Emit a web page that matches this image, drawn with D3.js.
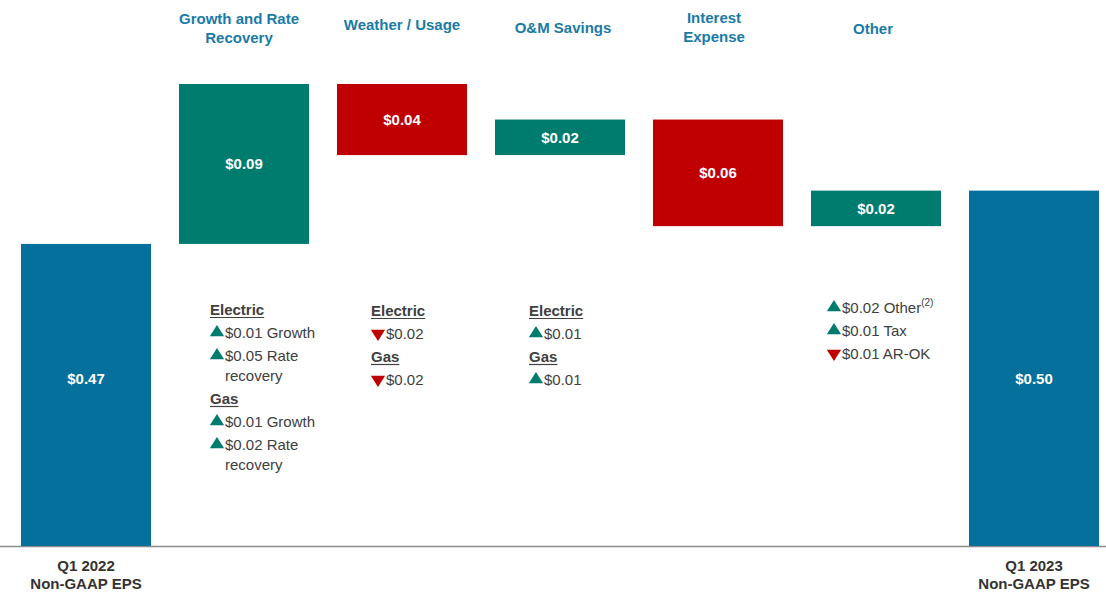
<!DOCTYPE html>
<html>
<head>
<meta charset="utf-8">
<script src="https://cdn.jsdelivr.net/npm/d3@7"></script>
<style>
  body { margin: 0; background: #fff; }
  svg { font-family: "Liberation Sans", Arial, sans-serif; }
</style>
</head>
<body>
<svg id="waterfall" width="1106" height="595"></svg>
<script>
// waterfall data
const steps = ["start", "growth", "weather", "om", "interest", "other", "end"];
const values = [0.47, 0.09, -0.04, 0.02, -0.06, 0.02, 0.50];
const isTotal = [true, false, false, false, false, false, true];
const valueLabels = ["$0.47", "$0.09", "$0.04", "$0.02", "$0.06", "$0.02", "$0.50"];
const headerLines = [
  [],
  ["Growth and Rate", "Recovery"],
  ["Weather / Usage"],
  ["O&M Savings"],
  ["Interest", "Expense"],
  ["Other"],
  []
];
const footerLines = [
  ["Q1 2022", "Non-GAAP EPS"],
  [], [], [], [], [],
  ["Q1 2023", "Non-GAAP EPS"]
];
// driver notes: kind = head | up | down | cont
const notes = {
  growth: [
    ["head", "Electric"], ["up", "$0.01 Growth"], ["up", "$0.05 Rate"], ["cont", "recovery"],
    ["head", "Gas"], ["up", "$0.01 Growth"], ["up", "$0.02 Rate"], ["cont", "recovery"]
  ],
  weather: [["head", "Electric"], ["down", "$0.02"], ["head", "Gas"], ["down", "$0.02"]],
  om: [["head", "Electric"], ["up", "$0.01"], ["head", "Gas"], ["up", "$0.01"]],
  other: [["up", "$0.02 Other"], ["up", "$0.01 Tax"], ["down", "$0.01 AR-OK"]]
};

const colors = { total: "#05709b", up: "#007c6f", down: "#c00000", head: "#1b7ba6", text: "#404040" };

const svg = d3.select("svg#waterfall");
const baseY = 546;

const x = d3.scaleBand().domain(steps).range([7, 1113]).paddingInner(0.177).paddingOuter(0.0885);
const y = d3.scaleLinear().domain([0.3, 0.56]).range([baseY, 84]);

// headers sit a little off the bar centres in the slide
const headerShift = [0, -5, 0, 3, -4, -3, 0];
const headerTop = [0, 18, 24, 27, 17, 28, 0];

// running totals
let running = 0;
const bars = steps.map((s, i) => {
  let lo, hi;
  if (isTotal[i]) {
    lo = y.domain()[0];
    hi = values[i];
    running = values[i];
  } else {
    const next = running + values[i];
    lo = Math.min(running, next);
    hi = Math.max(running, next);
    running = next;
  }
  return { step: s, lo, hi, v: values[i], total: isTotal[i], label: valueLabels[i] };
});

// baseline
svg.append("line")
  .attr("x1", 0).attr("x2", 1106)
  .attr("y1", baseY + 0.5).attr("y2", baseY + 0.5)
  .attr("stroke", "#8c8c8c").attr("stroke-width", 1.5);

svg.selectAll("rect.bar")
  .data(bars)
  .join("rect")
  .attr("class", "bar")
  .attr("x", d => x(d.step))
  .attr("width", x.bandwidth())
  .attr("y", d => y(d.hi))
  .attr("height", d => y(d.lo) - y(d.hi))
  .attr("fill", d => d.total ? colors.total : (d.v >= 0 ? colors.up : colors.down));

svg.selectAll("text.val")
  .data(bars)
  .join("text")
  .attr("class", "val")
  .attr("x", d => x(d.step) + x.bandwidth() / 2)
  .attr("y", d => d.total ? 378 : (y(d.hi) + y(d.lo)) / 2)
  .attr("text-anchor", "middle")
  .attr("dominant-baseline", "central")
  .attr("fill", "#fff")
  .style("font-weight", "bold")
  .style("font-size", "15px")
  .text(d => d.label);

// category headers
steps.forEach((s, i) => {
  const lines = headerLines[i];
  if (!lines.length) return;
  const cx = x(s) + x.bandwidth() / 2 + headerShift[i];
  lines.forEach((t, j) => {
    svg.append("text")
      .attr("x", cx)
      .attr("y", headerTop[i] + j * 19)
      .attr("text-anchor", "middle")
      .attr("dominant-baseline", "central")
      .attr("fill", colors.head)
      .style("font-weight", "bold")
      .style("font-size", "15px")
      .text(t);
  });
});

// bottom labels
steps.forEach((s, i) => {
  const lines = footerLines[i];
  lines.forEach((t, j) => {
    svg.append("text")
      .attr("x", x(s) + x.bandwidth() / 2)
      .attr("y", 565 + j * 18)
      .attr("text-anchor", "middle")
      .attr("dominant-baseline", "central")
      .attr("fill", "#333")
      .style("font-weight", "bold")
      .style("font-size", "15px")
      .text(t);
  });
});

// driver notes under the bars
const noteStart = { growth: 309, weather: 310, om: 310, other: 307 };
Object.keys(notes).forEach(key => {
  const left = x(key) + (key === "other" ? 16 : (key === "growth" ? 31 : 34));
  let cy = noteStart[key];
  notes[key].forEach(([kind, txt], k) => {
    if (k > 0) cy += kind === "cont" ? 20 : 23;
    if (kind === "head") {
      const t = svg.append("text")
        .attr("x", left).attr("y", cy)
        .attr("dominant-baseline", "central")
        .attr("fill", colors.text)
        .style("font-weight", "bold")
        .style("font-size", "15px")
        .text(txt);
      const w = t.node().getComputedTextLength();
      svg.append("line")
        .attr("x1", left).attr("x2", left + w)
        .attr("y1", cy + 8.5).attr("y2", cy + 8.5)
        .attr("stroke", colors.text).attr("stroke-width", 1.2);
    } else {
      if (kind !== "cont") {
        const sym = d3.symbol().type(d3.symbolTriangle).size(80);
        svg.append("path")
          .attr("d", sym())
          .attr("transform", `translate(${left + 7},${cy + 0.5}) scale(1.05,${kind === "down" ? -0.95 : 0.95})`)
          .attr("fill", kind === "up" ? colors.up : colors.down);
      }
      const t = svg.append("text")
        .attr("x", left + 15).attr("y", cy)
        .attr("dominant-baseline", "central")
        .attr("fill", colors.text)
        .style("font-size", "15px")
        .text(txt);
      if (txt === "$0.02 Other") {
        t.append("tspan")
          .attr("dy", -5)
          .style("font-size", "10px")
          .text("(2)");
      }
    }
  });
});
</script>
</body>
</html>
